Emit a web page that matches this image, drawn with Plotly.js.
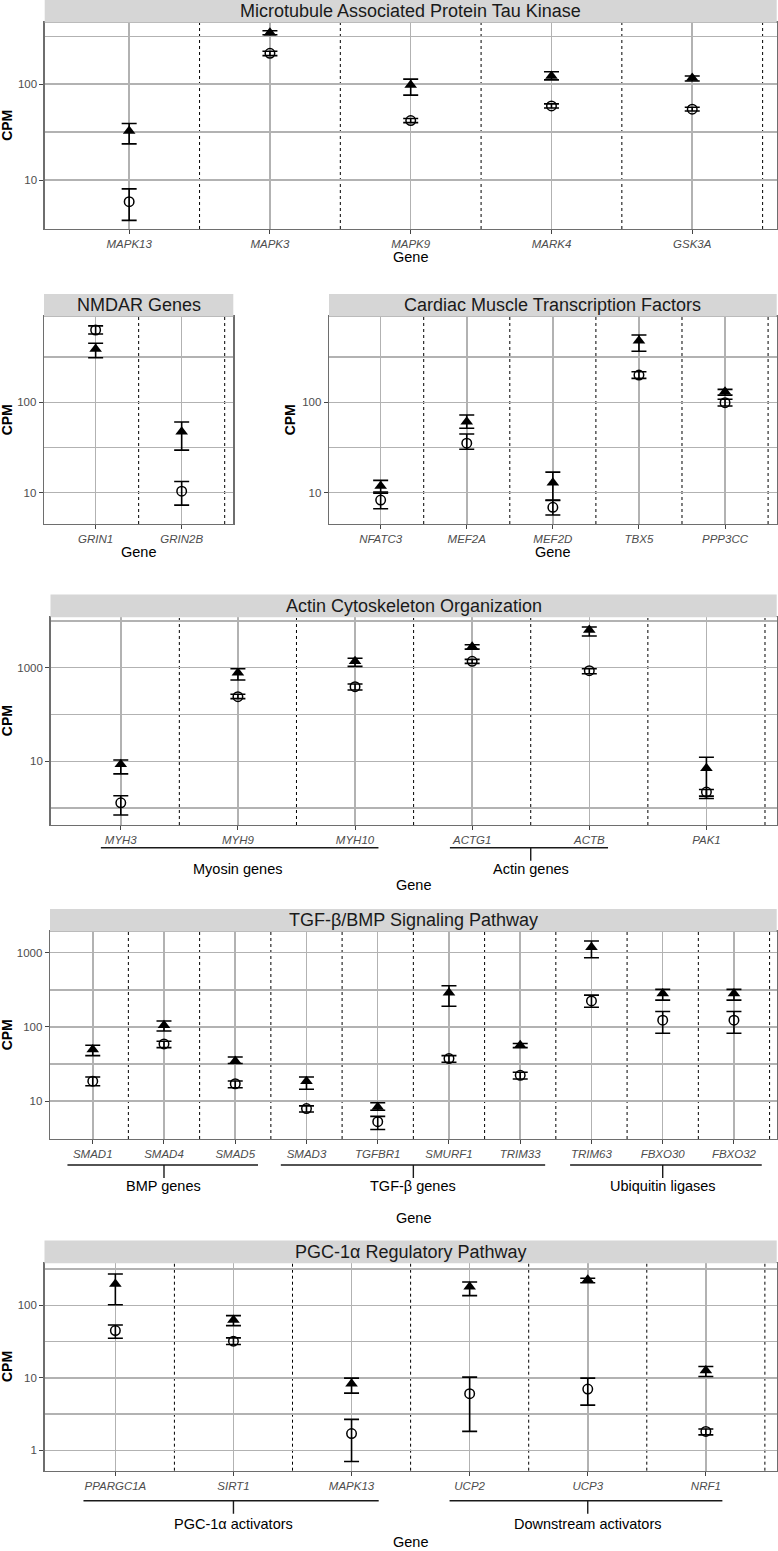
<!DOCTYPE html>
<html><head><meta charset="utf-8">
<script src="https://cdn.plot.ly/plotly-3.0.1.min.js"></script>
<style>html,body{margin:0;padding:0;background:#fff}</style>
</head><body><div id="chart" style="width:778px;height:1551px"></div>
<script>
// ---------------- DATA ----------------
// filled triangles = group A, open circles = group B (CPM mean, lower, upper)
const p1Genes = ['MAPK13','MAPK3','MAPK9','MARK4','GSK3A'];
const p1TriMean = [32.6, 345, 98, 122, 116];
const p1TriLo   = [23.9, 328, 77, 111, 108];
const p1TriHi   = [39, 362, 113, 135, 122];
const p1CirMean = [5.95, 210, 41.8, 59.4, 55];
const p1CirLo   = [3.8, 199, 39.8, 56.5, 52.5];
const p1CirHi   = [8.1, 221, 43.9, 62.4, 57.5];

const p2Genes = ['GRIN1','GRIN2B'];
const p2TriMean = [390, 47.3];
const p2TriLo   = [311, 29.6];
const p2TriHi   = [450, 60.5];
const p2CirMean = [631, 10.4];
const p2CirLo   = [569, 7.3];
const p2CirHi   = [700, 13.3];

const p3Genes = ['NFATC3','MEF2A','MEF2D','TBX5','PPP3CC'];
const p3TriMean = [11.9, 61, 12.9, 480, 131];
const p3TriLo   = [10.2, 51.6, 8.3, 367, 120];
const p3TriHi   = [13.7, 72.5, 16.9, 555, 139];
const p3CirMean = [8.3, 35.3, 6.9, 200, 99];
const p3CirLo   = [6.65, 30.2, 5.66, 184, 91];
const p3CirHi   = [9.9, 44.7, 8.2, 218, 108];

const p4Genes = ['MYH3','MYH9','MYH10','ACTG1','ACTB','PAK1'];
const p4TriMean = [8.6, 782, 1370, 2800, 6400, 7.1];
const p4TriLo   = [5.4, 546, 1070, 2500, 4750, 1.8];
const p4TriHi   = [10.7, 950, 1590, 3100, 7400, 12.2];
const p4CirMean = [1.3, 240, 393, 1370, 863, 2.2];
const p4CirLo   = [0.71, 218, 333, 1240, 745, 1.6];
const p4CirHi   = [1.84, 270, 448, 1510, 950, 2.5];
const p4Groups = ['Myosin genes','Actin genes'];
const p4GroupStart = [0, 3];
const p4GroupEnd = [2, 4];

const p5Genes = ['SMAD1','SMAD4','SMAD5','SMAD3','TGFBR1','SMURF1','TRIM33','TRIM63','FBXO30','FBXO32'];
const p5TriMean = [49.4, 105, 34.7, 18.5, 8.3, 288, 56.5, 1180, 282, 282];
const p5TriLo   = [41, 88, 32, 14.4, 7.5, 190, 52.5, 856, 229, 229];
const p5TriHi   = [56.5, 120, 39.3, 21.1, 9.5, 358, 59.6, 1440, 320, 320];
const p5CirMean = [18.5, 58.9, 17.1, 7.9, 5.26, 37.3, 22.2, 224, 123, 123];
const p5CirLo   = [16.1, 52.5, 15.1, 7.1, 4.14, 33.4, 19.8, 184, 82, 82];
const p5CirHi   = [21.1, 64, 18.6, 8.6, 6.2, 41, 24.4, 268, 161, 161];
const p5Groups = ['BMP genes','TGF-β genes','Ubiquitin ligases'];
const p5GroupStart = [0, 3, 7];
const p5GroupEnd = [2, 6, 9];

const p6Genes = ['PPARGC1A','SIRT1','MAPK13','UCP2','UCP3','NRF1'];
const p6TriMean = [197, 62.8, 8.27, 181, 225, 12.6];
const p6TriLo   = [102, 52.5, 6.15, 136, 205, 10.4];
const p6TriHi   = [270, 72, 9.9, 210, 236, 14.3];
const p6CirMean = [44.8, 32, 1.7, 6.03, 6.98, 1.82];
const p6CirLo   = [35.2, 28.8, 0.70, 1.82, 4.2, 1.63];
const p6CirHi   = [53.6, 35.5, 2.67, 10.2, 9.9, 1.97];
const p6Groups = ['PGC-1α activators','Downstream activators'];
const p6GroupStart = [0, 3];
const p6GroupEnd = [2, 5];

const tickVals2 = [10, 100];          const tickText2 = ['10','100'];
const tickVals4 = [10, 1000];         const tickText4 = ['10','1000'];
const tickVals5 = [10, 100, 1000];    const tickText5 = ['10','100','1000'];
const tickVals6 = [1, 10, 100];       const tickText6 = ['1','10','100'];

// ---------------- LAYOUT CONFIG ----------------
const W = 778, H = 1551;
const FONT = 'Liberation Sans, Arial, Helvetica, sans-serif';
const GRID = '#b2b2b2', BORDER = '#6e6e6e', STRIP = '#d6d6d6';
const GW = 1.5;

const panels = [
  {title:'Microtubule Associated Protein Tau Kinase', genes:p1Genes,
   tri:[p1TriMean,p1TriLo,p1TriHi], cir:[p1CirMean,p1CirLo,p1CirHi],
   box:[44.7,776.7,22.7,229], yr:[0.49,2.642], tv:tickVals2, tt:tickText2,
   minor:[Math.pow(10,0.5),Math.pow(10,1.5),Math.pow(10,2.5)], geneY:257, cpmX:7},
  {title:'NMDAR Genes', genes:p2Genes,
   tri:[p2TriMean,p2TriLo,p2TriHi], cir:[p2CirMean,p2CirLo,p2CirHi],
   box:[44,233.3,316.7,524], yr:[0.654,2.947], tv:tickVals2, tt:tickText2,
   minor:[Math.pow(10,1.5),Math.pow(10,2.5)], geneY:552, cpmX:7},
  {title:'Cardiac Muscle Transcription Factors', genes:p3Genes,
   tri:[p3TriMean,p3TriLo,p3TriHi], cir:[p3CirMean,p3CirLo,p3CirHi],
   box:[329,776.7,316.7,524], yr:[0.654,2.947], tv:tickVals2, tt:tickText2,
   minor:[Math.pow(10,1.5),Math.pow(10,2.5)], geneY:552, cpmX:290},
  {title:'Actin Cytoskeleton Organization', genes:p4Genes,
   tri:[p4TriMean,p4TriLo,p4TriHi], cir:[p4CirMean,p4CirLo,p4CirHi],
   box:[50.5,776.7,617.3,825], yr:[-0.361,4.077], tv:tickVals4, tt:tickText4,
   minor:[1,100,10000], geneY:885, cpmX:7,
   groups:{names:p4Groups, s:p4GroupStart, e:p4GroupEnd, padL:[0.17,0.19], padR:[0.2,0.16], tick:[false,true], lineY:847.7, labelY:869}},
  {title:'TGF-β/BMP Signaling Pathway', genes:p5Genes,
   tri:[p5TriMean,p5TriLo,p5TriHi], cir:[p5CirMean,p5CirLo,p5CirHi],
   box:[50,776.7,931.7,1139], yr:[0.488,3.283], tv:tickVals5, tt:tickText5,
   minor:[Math.pow(10,0.5),Math.pow(10,1.5),Math.pow(10,2.5)], geneY:1217.7, cpmX:7,
   groups:{names:p5Groups, s:p5GroupStart, e:p5GroupEnd, padL:[0.355,0.36,0.3], padR:[0.32,0.35,0.39], tick:[true,true,true], lineY:1165, labelY:1185.7}},
  {title:'PGC-1α Regulatory Pathway', genes:p6Genes,
   tri:[p6TriMean,p6TriLo,p6TriHi], cir:[p6CirMean,p6CirLo,p6CirHi],
   box:[44.5,776.7,1263.3,1470.7], yr:[-0.282,2.58], tv:tickVals6, tt:tickText6,
   minor:[Math.pow(10,0.5),Math.pow(10,1.5),Math.pow(10,2.5)], geneY:1541.5, cpmX:7,
   groups:{names:p6Groups, s:p6GroupStart, e:p6GroupEnd, padL:[0.27,0.17], padR:[0.23,0.14], tick:[true,true], lineY:1500.7, labelY:1524}}
];

const fx = v => v / W, fy = v => 1 - v / H;
const traces = [], shapes = [], annotations = [];
const layout = {
  width: W, height: H, margin:{l:0,r:0,t:0,b:0},
  paper_bgcolor:'#ffffff', plot_bgcolor:'#ffffff', showlegend:false,
  font:{family:FONT, color:'#000'}
};

panels.forEach((p, k) => {
  const n = k + 1;
  const xa = 'x' + (n === 1 ? '' : n), ya = 'y' + (n === 1 ? '' : n);
  const xk = 'xaxis' + (n === 1 ? '' : n), yk = 'yaxis' + (n === 1 ? '' : n);
  const [l, r, t, b] = p.box;
  const N = p.genes.length;

  layout[xk] = {
    domain:[fx(l), fx(r)], anchor:ya, type:'category',
    categoryorder:'array', categoryarray:p.genes, range:[-0.6, N - 0.4],
    showgrid:true, gridcolor:GRID, gridwidth:GW,
    ticks:'outside', ticklen:4, tickwidth:1, tickcolor:'#444',
    tickfont:{family:FONT, size:11.5, color:'#4d4d4d', style:'italic'},
    showline:true, mirror:true, linecolor:BORDER, linewidth:1.3, zeroline:false, fixedrange:true
  };
  layout[yk] = {
    domain:[fy(b), fy(t)], anchor:xa, type:'log', range:p.yr,
    tickmode:'array', tickvals:p.tv, ticktext:p.tt,
    showgrid:true, gridcolor:GRID, gridwidth:GW,
    minor:{tickmode:'array', tickvals:p.minor, showgrid:true, gridcolor:GRID, gridwidth:GW, ticks:''},
    ticks:'outside', ticklen:4, tickwidth:1, tickcolor:'#444',
    tickfont:{family:FONT, size:11.5, color:'#4d4d4d'},
    showline:true, mirror:true, linecolor:BORDER, linewidth:1.3, zeroline:false, fixedrange:true
  };

  const mk = (arr, isTri) => ({
    type:'scatter', mode:'markers', xaxis:xa, yaxis:ya, x:p.genes, y:arr[0],
    error_y:{type:'data', symmetric:false,
      array:arr[0].map((m,i)=>arr[2][i]-m), arrayminus:arr[0].map((m,i)=>m-arr[1][i]),
      color:'#000', thickness:1.6, width:7.5},
    marker: isTri ? {symbol:'triangle-up', size:11, color:'#000'}
                  : {symbol:'circle-open', size:9.5, color:'#000', line:{width:1.5, color:'#000'}},
    name: isTri ? 'Group A' : 'Group B', hoverinfo:'x+y'
  });
  traces.push(mk(p.cir, false));
  traces.push(mk(p.tri, true));

  // dashed separators between genes
  for (let i = 0; i < N; i++) {
    shapes.push({type:'line', xref:xa, yref:ya + ' domain', x0:i + 0.5, x1:i + 0.5, y0:0, y1:1,
      line:{color:'#000', width:1, dash:'3px,3px'}, layer:'below'});
  }
  // strip
  shapes.push({type:'rect', xref:'paper', yref:'paper', x0:fx(l), x1:fx(r), y0:fy(t), y1:fy(t - 22.7),
    fillcolor:STRIP, line:{width:0}, layer:'above'});
  annotations.push({xref:'paper', yref:'paper', x:fx((l + r) / 2), y:fy(t - 11.3), text:p.title,
    showarrow:false, xanchor:'center', yanchor:'middle', font:{family:FONT, size:18, color:'#1a1a1a'}});
  // axis titles
  annotations.push({xref:'paper', yref:'paper', x:fx(p.cpmX), y:fy((t + b) / 2), text:'<b>CPM</b>', textangle:-90,
    showarrow:false, xanchor:'center', yanchor:'middle', font:{family:FONT, size:14, color:'#000'}});
  annotations.push({xref:'paper', yref:'paper', x:fx((l + r) / 2), y:fy(p.geneY), text:'Gene',
    showarrow:false, xanchor:'center', yanchor:'middle', font:{family:FONT, size:14.5, color:'#000'}});

  // group brackets
  if (p.groups) {
    const g = p.groups;
    g.names.forEach((name, j) => {
      const x0 = g.s[j] - g.padL[j], x1 = g.e[j] + g.padR[j], xc = (g.s[j] + g.e[j]) / 2;
      shapes.push({type:'line', xref:xa, yref:'paper', x0:x0, x1:x1, y0:fy(g.lineY), y1:fy(g.lineY),
        line:{color:'#1a1a1a', width:1.6}, layer:'above'});
      if (g.tick[j]) {
        shapes.push({type:'line', xref:xa, yref:'paper', x0:xc, x1:xc, y0:fy(g.lineY), y1:fy(g.lineY + 13),
          line:{color:'#1a1a1a', width:1.4}, layer:'above'});
      }
      annotations.push({xref:xa, yref:'paper', x:xc, y:fy(g.labelY), text:name, showarrow:false,
        xanchor:'center', yanchor:'middle', font:{family:FONT, size:14.5, color:'#000'}});
    });
  }
});

layout.shapes = shapes;
layout.annotations = annotations;
Plotly.newPlot('chart', traces, layout, {staticPlot:true, displayModeBar:false});
</script></body></html>
